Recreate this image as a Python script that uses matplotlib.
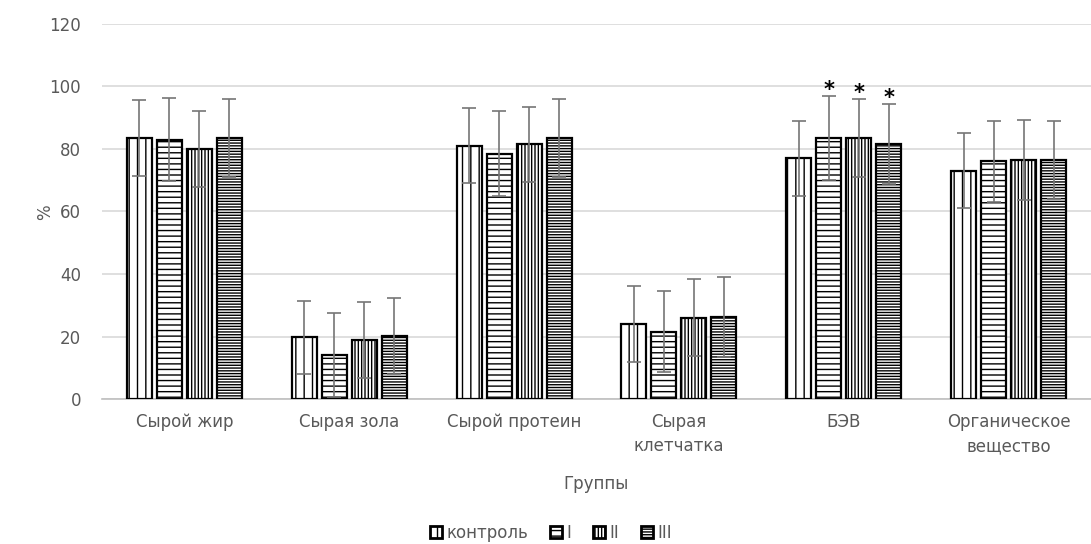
import numpy as np
import matplotlib.pyplot as plt
from matplotlib.patches import Patch

plt.rcParams['font.family'] = ['DejaVu Sans']
plt.rcParams['hatch.linewidth'] = 1.0

# data
categories = ['Сырой жир', 'Сырая зола', 'Сырой протеин', 'Сырая\nклетчатка', 'БЭВ', 'Органическое\nвещество']
series = ['контроль', 'I', 'II', 'III']
control = [83.5, 19.7, 81.0, 24.0, 77.0, 73.0]
grp1 = [83.0, 14.1, 78.5, 21.5, 83.5, 76.0]
grp2 = [80.0, 18.8, 81.5, 26.0, 83.5, 76.5]
grp3 = [83.5, 20.1, 83.5, 26.2, 81.6, 76.5]
err_control = [12.2, 11.8, 12.0, 12.0, 12.0, 12.0]
err1 = [13.2, 13.3, 13.5, 13.0, 13.5, 13.0]
err2 = [12.3, 12.1, 12.0, 12.3, 12.4, 12.8]
err3 = [12.4, 12.1, 12.5, 12.8, 12.7, 12.5]
star_cat = 'БЭВ'
star_series = ['I', 'II', 'III']

values = [control, grp1, grp2, grp3]
errors = [err_control, err1, err2, err3]
hatches = ['||', '---', '|||||', '------']

txt = '#595959'
fs = 12
fig = plt.figure(figsize=(10.91, 5.44), dpi=100)
ax = fig.add_axes([0.0935, 0.2665, 0.9065, 0.6895])

x = np.arange(len(categories))
w = 0.152
step = 0.182
for i, (vals, errs) in enumerate(zip(values, errors)):
    pos = x + (i - 1.5) * step
    ax.bar(pos, vals, width=w, color='white', edgecolor='black', linewidth=1.6,
           hatch=hatches[i], zorder=3, label=series[i])
    ax.errorbar(pos, vals, yerr=errs, fmt='none', ecolor='#767676', elinewidth=1.2,
                capsize=5, capthick=1.2, zorder=4)
    if series[i] in star_series:
        k = categories.index(star_cat)
        ax.text(pos[k], vals[k] + errs[k] - 1.2, '*', ha='center', va='bottom',
                fontsize=15, fontweight='bold', color='black', zorder=5)

ax.set_xlim(-0.5, len(categories) - 0.5)
ax.set_ylim(0, 120)
ax.set_yticks(range(0, 121, 20))
ax.yaxis.grid(True, color='#d9d9d9', linewidth=1.2, zorder=0)
ax.set_axisbelow(True)
for s in ['top', 'right', 'left']:
    ax.spines[s].set_visible(False)
ax.spines['bottom'].set_color('#bfbfbf')
ax.spines['bottom'].set_linewidth(1.2)
ax.tick_params(length=0, labelsize=fs, labelcolor=txt)
ax.tick_params(axis='y', pad=15)
ax.tick_params(axis='x', pad=10)
ax.set_xticks(x)
ax.set_xticklabels(categories, linespacing=1.45)

ax.set_xlabel('Группы', fontsize=fs, color=txt, labelpad=14)
fig.text(0.041, 0.61, '%', rotation=90, fontsize=fs, color=txt, ha='center', va='center')

handles = [Patch(facecolor='white', edgecolor='black', hatch=h, linewidth=2.0) for h in hatches]
fig.legend(handles, series, loc='center', bbox_to_anchor=(0.505, 0.02), ncol=4, frameon=False,
           fontsize=fs, labelcolor=txt, handlelength=0.75, handleheight=0.75,
           handletextpad=0.25, columnspacing=1.3)

fig.savefig('out.png', dpi=100)
